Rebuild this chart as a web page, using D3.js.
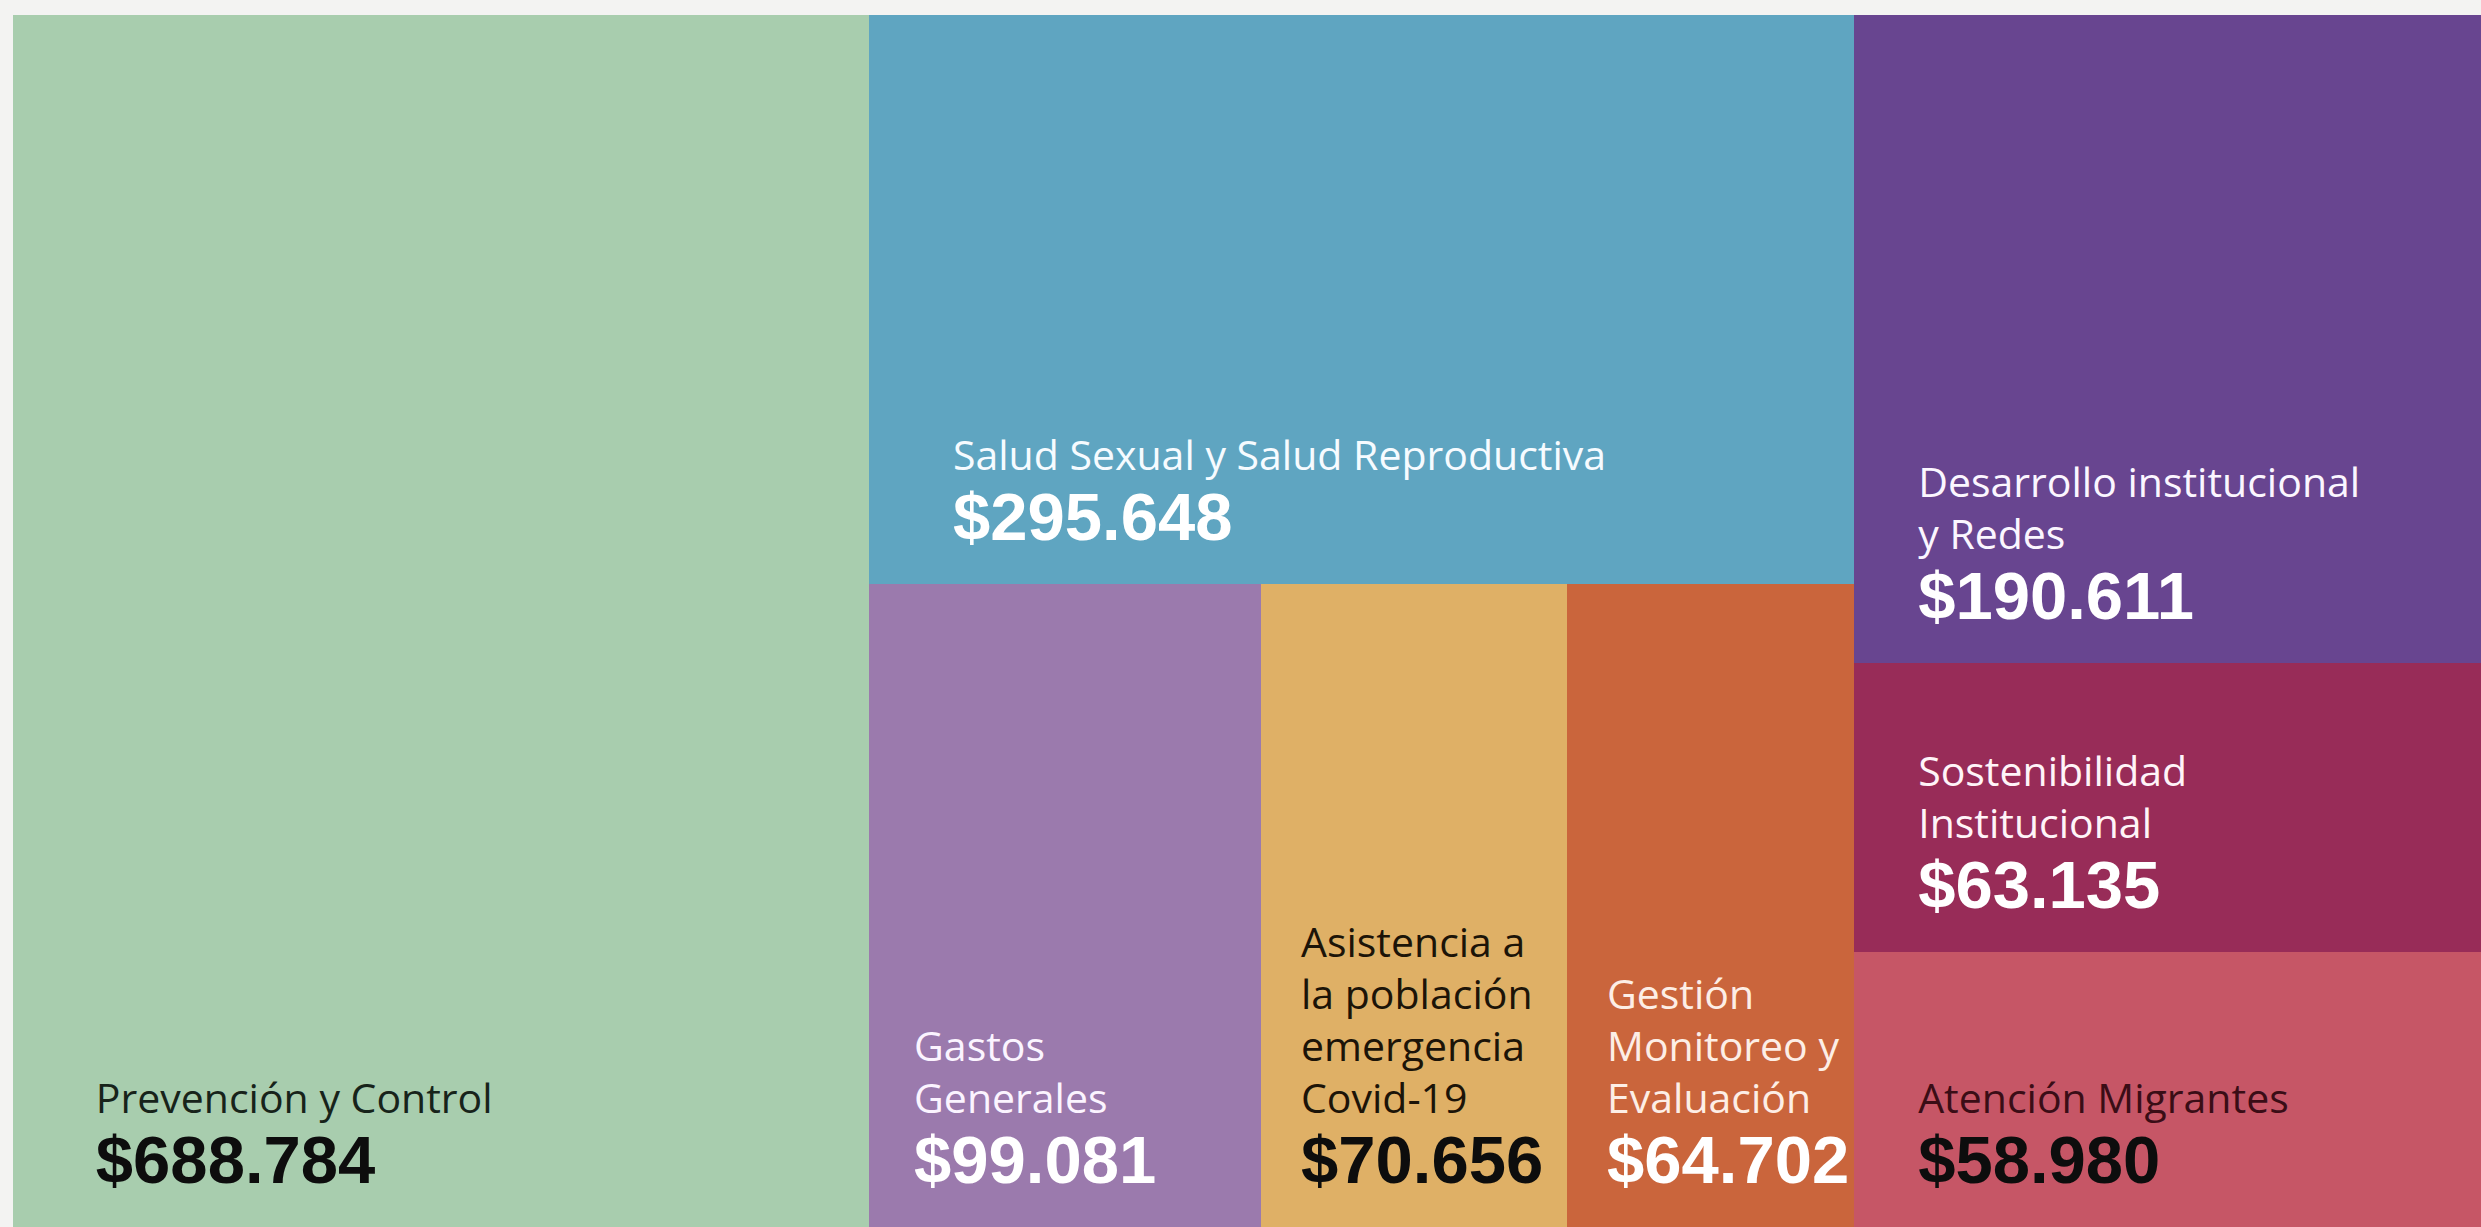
<!DOCTYPE html>
<html>
<head>
<meta charset="utf-8">
<script src="https://cdn.jsdelivr.net/npm/d3@7"></script>
<style>
  html, body { margin: 0; padding: 0; background: #f3f3f2; }
  svg { display: block; }
</style>
</head>
<body>
<svg id="chart" width="2481" height="1227"></svg>
<script>
// ---- data ----
const categories = [
  "Prevención y Control",
  "Salud Sexual y Salud Reproductiva",
  "Desarrollo institucional y Redes",
  "Gastos Generales",
  "Asistencia a la población emergencia Covid-19",
  "Gestión Monitoreo y Evaluación",
  "Sostenibilidad Institucional",
  "Atención Migrantes"
];
const values = [688784, 295648, 190611, 99081, 70656, 64702, 63135, 58980];
const labelLines = [
  ["Prevención y Control"],
  ["Salud Sexual y Salud Reproductiva"],
  ["Desarrollo institucional", "y Redes"],
  ["Gastos", "Generales"],
  ["Asistencia a", "la población", "emergencia", "Covid-19"],
  ["Gestión", "Monitoreo y", "Evaluación"],
  ["Sostenibilidad", "Institucional"],
  ["Atención Migrantes"]
];

// ---- styles ----
const fills = ["#a8cdae", "#5fa5c1", "#684590", "#9b7aad", "#dfb066", "#ca653c", "#982c58", "#c65666"];
const labelColors = ["#17231a", "#f6fbff", "#fbf6ff", "#fbf4ff", "#1c1408", "#fdeee6", "#fff4f8", "#3a0d16"];
const valueColors = ["#0d0d0d", "#ffffff", "#ffffff", "#ffffff", "#0d0d0d", "#ffffff", "#ffffff", "#0d0d0d"];

// arrangement of the tiles (indices into the arrays above)
const arrangement = { dir: "x", children: [0,
  { dir: "y", children: [1, { dir: "x", children: [3, 4, 5] }] },
  { dir: "y", children: [2, 6, 7] }
]};

const W = 2481, H = 1227;
const margin = { top: 15, right: 0, bottom: 0, left: 13 };
const innerW = W - margin.left - margin.right;
const innerH = H - margin.top - margin.bottom;

const fmt = d3.formatLocale({ decimal: ",", thousands: ".", grouping: [3], currency: ["$", ""] }).format("$,d");

// area weight scale (the reference compresses large values)
const areaScale = d3.scalePow().exponent(0.73).domain([0, 1]).range([0, 1]);

function build(node) {
  if (typeof node === "number") return { index: node, name: categories[node], value: values[node] };
  return { dir: node.dir, children: node.children.map(build) };
}
const root = d3.hierarchy(build(arrangement))
  .sum(d => d.children ? 0 : areaScale(d.value / 1000));

d3.treemap()
  .size([innerW, innerH])
  .paddingInner(0)
  .round(true)
  .tile((node, x0, y0, x1, y1) => (node.data.dir === "y" ? d3.treemapSlice : d3.treemapDice)(node, x0, y0, x1, y1))
  (root);

const svg = d3.select("#chart");
const g = svg.append("g").attr("transform", `translate(${margin.left},${margin.top})`);

const padScale = d3.scaleLinear().domain([330, 870]).range([40, 84]).clamp(true);

const leaves = g.selectAll("g.cell").data(root.leaves()).join("g").attr("class", "cell");

leaves.append("rect")
  .attr("x", d => d.x0).attr("y", d => d.y0)
  .attr("width", d => d.x1 - d.x0).attr("height", d => d.y1 - d.y0)
  .attr("fill", d => fills[d.data.index]);

const labelSize = 41, lineH = 52, valueSize = 67, gap = 70;

leaves.each(function(d) {
  const i = d.data.index;
  const cell = d3.select(this);
  const x = d.x0 + padScale(d.x1 - d.x0);
  const valueY = d.y1 - 44;
  const lines = labelLines[i];
  const lastLabelY = valueY - gap;
  const t = cell.append("text")
    .attr("font-family", "'Open Sans', Lato, sans-serif")
    .attr("font-size", labelSize)
    .attr("fill", labelColors[i]);
  lines.forEach((ln, k) => {
    t.append("tspan").attr("x", x)
      .attr("y", lastLabelY - (lines.length - 1 - k) * lineH)
      .text(ln);
  });
  cell.append("text")
    .attr("x", x).attr("y", valueY)
    .attr("font-family", "'Liberation Sans', Arial, sans-serif")
    .attr("font-weight", 700)
    .attr("font-size", valueSize)
    .attr("fill", valueColors[i])
    .text(fmt(values[i]));
});
</script>
</body>
</html>
